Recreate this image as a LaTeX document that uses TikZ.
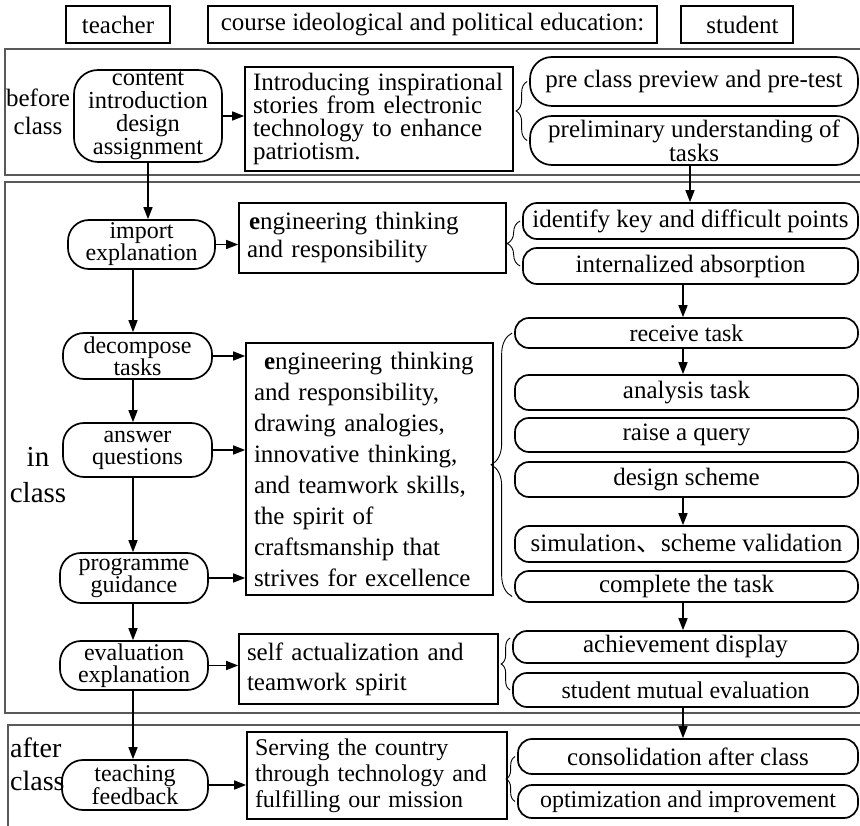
\documentclass[tikz,border=0pt]{standalone}
\usepackage{fontspec}
\setmainfont{Liberation Serif}
\newfontfamily\cjk{Noto Sans CJK SC}
\usetikzlibrary{arrows.meta,decorations.pathreplacing}
\begin{document}
\begin{tikzpicture}[x=1pt,y=-1pt,
	pill/.style={draw,line width=1.7pt,inner sep=0pt,align=center},
	lpill/.style={pill,light=22,rounded corners=21pt,minimum width=148pt},
	rpill/.style={pill,big=25,rounded corners=14pt,minimum width=343pt},
	boxed/.style={draw,line width=1.7pt,inner sep=0pt,inner xsep=8pt,align=left},
	head/.style={draw,line width=1.5pt,inner sep=0pt,minimum height=37pt,font=\fontsize{25}{28}\selectfont},
	big/.style={font=\fontsize{25}{#1}\selectfont},
	light/.style={font=\fontsize{24}{#1}\selectfont},
	arr/.style={-{Triangle[length=12pt,width=9pt]},line width=1.6pt},
	zone/.style={draw=black!65,line width=1.2pt},
	brc/.style={decorate,decoration={brace,amplitude=#1},line width=0.9pt}]
	\useasboundingbox (0,0) rectangle (860,826);

	\node[head,minimum width=104pt] (teacher) at (118,24.5) {teacher};
	\node[head,minimum width=449pt] (course) at (432.5,24.5) {course ideological and political education:};
	\node[head,minimum width=112pt] (student) at (737,24.5) {\hspace{11pt}student};

	\draw[zone] (870,49) -- (5,49) -- (5,175) -- (870,175);
	\draw[zone] (870,182) -- (5,182) -- (5,713) -- (870,713);
	\draw[zone] (870,725) -- (8,725) -- (8,840);

	\node[big=28,align=center,inner sep=0pt] (before) at (38,112) {before\\class};
	\node[font=\fontsize{29}{36}\selectfont,align=center,inner sep=0pt] (inclass) at (38,475) {in\\class};
	\node[font=\fontsize{28}{33}\selectfont,align=left,inner sep=0pt,anchor=west] (after) at (10,764) {after\\class};

	\node[pill,font=\fontsize{24.5}{23}\selectfont,rounded corners=24pt,minimum width=148pt,minimum height=92pt] (content) at (148,116) {content\\introduction\\design\\assignment};
	\node[lpill,minimum width=147pt,minimum height=49pt] (import) at (141.5,244.5) {import\\explanation};
	\node[lpill,minimum width=149pt,minimum height=46pt] (decompose) at (137.5,356) {decompose\\tasks};
	\node[lpill,minimum width=149pt,minimum height=54pt] (answer) at (137.5,450) {answer\\questions};
	\node[lpill,minimum height=50pt] (programme) at (134,578) {programme\\guidance};
	\node[lpill,minimum height=49pt] (evaluation) at (134,665.5) {evaluation\\explanation};
	\node[lpill,minimum width=146pt,minimum height=50pt] (teaching) at (135,785) {teaching\\feedback};

	\node[boxed,big=23,text width=252pt,minimum height=104pt] (intro) at (379,119) {Introducing inspirational\\stories from electronic\\technology to enhance\\patriotism.};
	\node[boxed,big=28,text width=251pt,minimum height=70pt] (eng1) at (372.5,238) {\hspace{2pt}\textbf{e}ngineering thinking\\and responsibility};
	\node[boxed,big=31,text width=231pt,minimum height=252pt] (eng2) at (369.5,469) {\hspace{10pt}\textbf{e}ngineering thinking\\and responsibility,\\drawing analogies,\\innovative thinking,\\and teamwork skills,\\the spirit of\\craftsmanship that\\strives for excellence};
	\node[boxed,big=30,text width=243pt,minimum height=70pt] (self) at (368.5,669) {self actualization and\\teamwork spirit};
	\node[boxed,light=26,text width=244pt,minimum height=87pt] (serving) at (377,775.5) {Serving the country\\through technology and\\fulfilling our mission};

	\node[rpill,minimum width=328pt,minimum height=49pt,rounded corners=22pt] (pre) at (694,81.5) {pre class preview and pre-test};
	\node[rpill,big=19,minimum width=328pt,minimum height=49pt,rounded corners=22pt] (prelim) at (694,140.5) {preliminary understanding of\\tasks};
	\node[rpill,minimum width=335pt,minimum height=36pt] (identify) at (690.5,221) {identify key and difficult points};
	\node[rpill,minimum width=335pt,minimum height=36pt] (internal) at (690.5,266) {internalized absorption};
	\node[rpill,light=24,minimum height=30pt] (receive) at (686.5,333) {receive task};
	\node[rpill,minimum height=35pt] (analysis) at (686.5,392.5) {analysis task};
	\node[rpill,minimum height=34pt] (raise) at (686.5,435) {raise a query};
	\node[rpill,minimum height=35pt] (design) at (686.5,479.5) {design scheme};
	\node[rpill,minimum height=36pt] (simulation) at (686.5,544) {simulation{\cjk 、}scheme validation};
	\node[rpill,minimum height=31pt] (complete) at (686.5,586.5) {complete the task};
	\node[rpill,minimum width=345pt,minimum height=32pt] (achievement) at (685.5,647) {achievement display};
	\node[rpill,light=24,minimum width=345pt,minimum height=34pt] (mutual) at (685.5,690) {student mutual evaluation};
	\node[rpill,minimum width=340pt,minimum height=35pt] (consolidation) at (688,756.5) {consolidation after class};
	\node[rpill,light=24,minimum width=340pt,minimum height=33pt] (optimization) at (688,801.5) {optimization and improvement};

	\coordinate (colL) at (133,0);
	\coordinate (colR) at (683,0);

	\draw[arr] (content.south) -- (content.south |- import.north);
	\draw[arr] (import.south -| colL) -- (decompose.north -| colL);
	\draw[arr] (decompose.south -| colL) -- (answer.north -| colL);
	\draw[arr] (answer.south -| colL) -- (programme.north -| colL);
	\draw[arr] (programme.south -| colL) -- (evaluation.north -| colL);
	\draw[arr] (evaluation.south -| colL) -- (teaching.north -| colL);

	\draw[arr] (content.east) -- (content.east -| intro.west);
	\draw[arr] (import.east) -- (import.east -| eng1.west);
	\draw[arr] (decompose.east) -- (decompose.east -| eng2.west);
	\draw[arr] (answer.east) -- (answer.east -| eng2.west);
	\draw[arr] (programme.east) -- (programme.east -| eng2.west);
	\draw[arr] (evaluation.east) -- (evaluation.east -| self.west);
	\draw[arr] (teaching.east) -- (teaching.east -| serving.west);

	\draw[arr] ([xshift=-4pt]prelim.south) -- ([xshift=-4pt]prelim.south |- identify.north);
	\draw[arr] (internal.south -| colR) -- (receive.north -| colR);
	\draw[arr] (receive.south -| colR) -- (analysis.north -| colR);
	\draw[arr] (design.south -| colR) -- (simulation.north -| colR);
	\draw[arr] (complete.south -| colR) -- (achievement.north -| colR);
	\draw[arr] (mutual.south -| colR) -- (consolidation.north -| colR);

	\draw[brc=11pt] ([xshift=-2pt]prelim.west) -- ([xshift=-2pt]pre.west);
	\draw[brc=13pt] ([xshift=-2pt]internal.west) -- ([xshift=-2pt]identify.west);
	\draw[brc=21pt] ([xshift=-2pt,yshift=-10pt]complete.west) -- ([xshift=-2pt]receive.west);
	\draw[brc=9pt] ([xshift=-2pt]mutual.west) -- ([xshift=-2pt,yshift=9pt]achievement.west);
	\draw[brc=9pt] ([xshift=-2pt]optimization.west) -- ([xshift=-2pt]consolidation.west);
\end{tikzpicture}
\end{document}
